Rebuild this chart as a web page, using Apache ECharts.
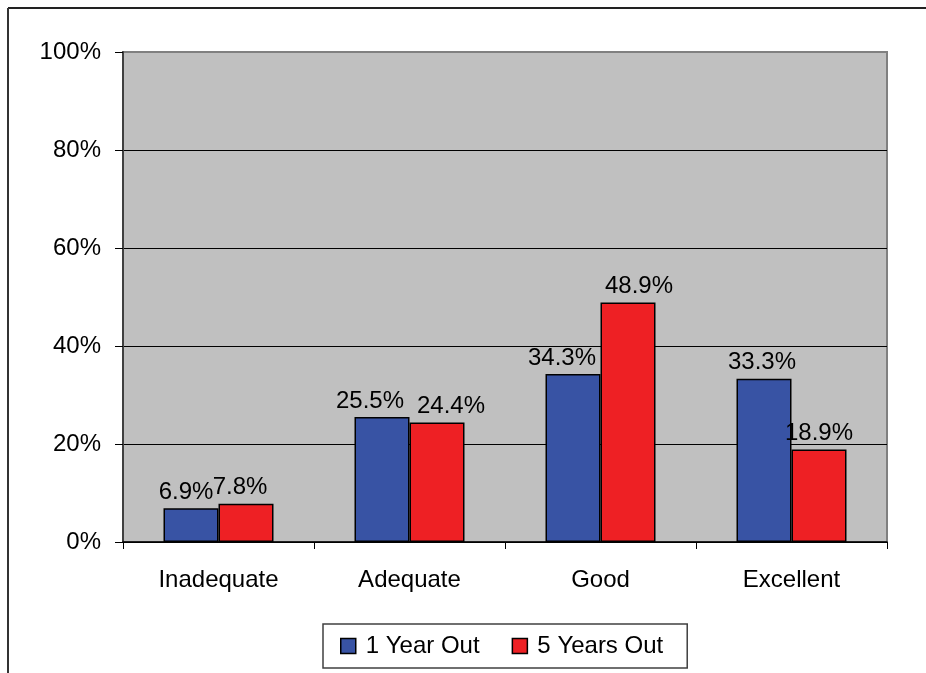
<!DOCTYPE html>
<html>
<head>
<meta charset="utf-8">
<script src="https://cdn.jsdelivr.net/npm/echarts@6/dist/echarts.min.js"></script>
<style>
html,body{margin:0;padding:0;background:#fff;}
#chart{width:926px;height:673px;}
</style>
</head>
<body>
<div id="chart"></div>
<script>
const categories = ['Inadequate', 'Adequate', 'Good', 'Excellent'];
const seriesNames = ['1 Year Out', '5 Years Out'];
const oneYearOut = [6.9, 25.5, 34.3, 33.3];
const fiveYearsOut = [7.8, 24.4, 48.9, 18.9];
const yTicks = [0, 20, 40, 60, 80, 100];

// small horizontal nudges of value labels, as placed in the original chart
const labelNudgeOne = [-5, -12, -11, -2];
const labelNudgeFive = [-6, 14, 11, 0];

const FONT = '"Liberation Sans", Arial, sans-serif';
const chart = echarts.init(document.getElementById('chart'), null, {renderer: 'canvas'});

function barSeries(name, data, nudges, color) {
  return {
    name: name,
    type: 'bar',
    data: data.map((v, i) => ({value: v, label: {offset: [nudges[i], 0]}})),
    barWidth: 55,
    barGap: '0%',
    itemStyle: {color: color, borderColor: '#000', borderWidth: 1.5},
    label: {
      show: true,
      position: 'top',
      distance: 4,
      color: '#000',
      fontFamily: FONT,
      fontSize: 24,
      formatter: p => p.value.toFixed(1) + '%'
    }
  };
}

chart.setOption({
  animation: false,
  backgroundColor: '#fff',
  grid: {
    left: 123, top: 52, right: 39, bottom: 131,
    show: true,
    backgroundColor: '#C0C0C0',
    borderColor: '#808080',
    borderWidth: 2
  },
  legend: {
    data: seriesNames,
    left: 323,
    top: 624,
    orient: 'horizontal',
    icon: 'rect',
    itemWidth: 15,
    itemHeight: 15,
    itemGap: 32,
    padding: [10, 24, 10, 17],
    borderColor: '#404040',
    borderWidth: 1.5,
    textStyle: {fontFamily: FONT, fontSize: 24, color: '#000', padding: [0, 0, 0, 5]},
    itemStyle: {borderColor: '#000', borderWidth: 1.5}
  },
  xAxis: {
    type: 'category',
    data: categories,
    axisLine: {show: true, lineStyle: {color: '#000', width: 1.5}},
    axisTick: {show: true, alignWithLabel: false, length: 7, lineStyle: {color: '#000', width: 1}},
    axisLabel: {fontFamily: FONT, fontSize: 24, color: '#000', margin: 26},
    splitLine: {show: false}
  },
  yAxis: {
    type: 'value',
    min: yTicks[0],
    max: yTicks[yTicks.length - 1],
    interval: 20,
    axisLine: {show: true, lineStyle: {color: '#404040', width: 2}},
    axisTick: {show: true, length: 8, lineStyle: {color: '#000', width: 1}},
    axisLabel: {fontFamily: FONT, fontSize: 24, color: '#000', margin: 22, formatter: v => v + '%'},
    splitLine: {show: true, lineStyle: {color: ['#000', '#000', '#000', '#000', '#000', '#808080'], width: 1}}
  },
  series: [
    barSeries(seriesNames[0], oneYearOut, labelNudgeOne, '#3853A4'),
    barSeries(seriesNames[1], fiveYearsOut, labelNudgeFive, '#EE2024')
  ],
  graphic: [
    {type: 'line', shape: {x1: 8, y1: 8, x2: 926, y2: 8}, style: {stroke: '#222', lineWidth: 2}},
    {type: 'line', shape: {x1: 8, y1: 8, x2: 8, y2: 673}, style: {stroke: '#333', lineWidth: 2}}
  ]
});
</script>
</body>
</html>
